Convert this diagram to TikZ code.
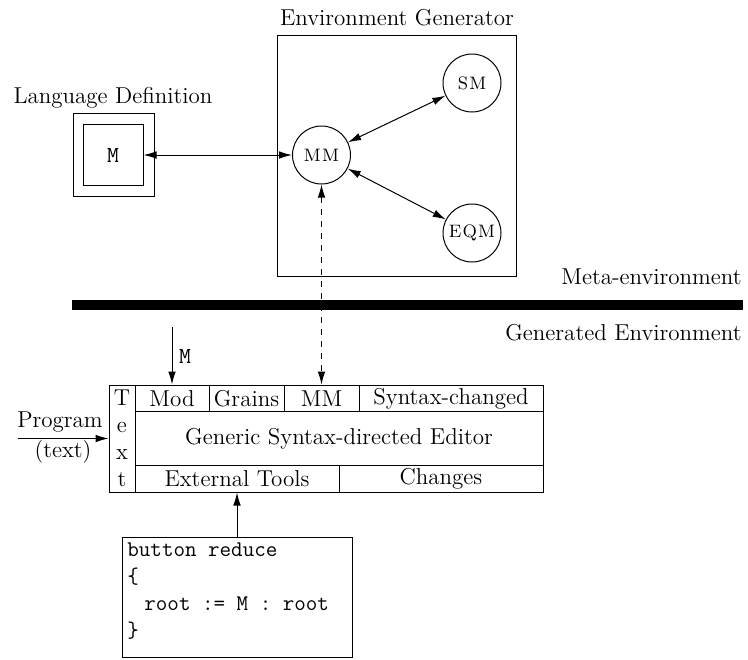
\documentclass[tikz,border=0pt]{standalone}
\usetikzlibrary{arrows.meta}
\begin{document}
\begin{tikzpicture}[x=0.5pt,y=-0.5pt,
  every node/.style={font=\fontsize{11.5}{13.5}\selectfont},
  thin line/.style={line width=0.5pt},
  tip/.style={-{Latex[length=6.5pt,width=3.8pt]}},
  twotip/.style={{Latex[length=6.5pt,width=3.8pt]}-{Latex[length=6.5pt,width=3.8pt]}},
  module/.style={circle,draw,line width=0.5pt,minimum size=29pt,inner sep=0pt,
    font=\fontsize{9}{10}\selectfont},
  cell/.style={draw,line width=0.5pt,inner sep=0pt,anchor=center},
  codeline/.style={anchor=base west,inner sep=0pt,font=\fontsize{11.2}{13}\ttfamily}]
\useasboundingbox (0,0) rectangle (748,659);

% ---- meta-environment ----
\node (egtitle) at (397,18) {Environment Generator};
\node[draw,thin line,minimum width=119.5pt,minimum height=120.5pt,inner sep=0pt] (eg) at (396.5,155.5) {};
\node[module] (mm) at (321.5,155) {M\kern0.6pt M};
\node[module] (sm) at (472,83) {S\kern0.6pt M};
\node[module] (eqm) at (472,233) {E\kern0.6pt Q\kern0.6pt M};
\draw[thin line,twotip] (mm) -- (sm);
\draw[thin line,twotip] (mm) -- (eqm);

\node (ldtitle) at (113,98) {Language Definition};
\node[draw,thin line,minimum width=40.5pt,minimum height=41.5pt,inner sep=0pt] (ldouter) at (113.5,155) {};
\node[draw,thin line,minimum width=30pt,minimum height=30.5pt,inner sep=0pt,
  font=\fontsize{11.5}{13}\ttfamily] (ldinner) at (113,155) {M};
\draw[thin line,twotip] (ldinner.east) -- (mm.west);

% ---- separator ----
\fill (72,300) rectangle (743,309.5);
\node[anchor=east,inner sep=0pt] (meta) at (742,277) {Meta-environment};
\node[anchor=east,inner sep=0pt] (gen) at (742,333) {Generated Environment};

% ---- generated editor ----
\node[cell,minimum width=13pt,minimum height=53.5pt,align=center,
  font=\fontsize{11.5}{13.5}\selectfont] (tcol) at (122,438.5) {T\\e\\x\\t};
\node[cell,minimum width=37pt,minimum height=13.35pt] (mod) at (172,398.35) {Mod};
\node[cell,minimum width=37.5pt,minimum height=13.35pt] (grains) at (246.5,398.35) {Grains};
\node[cell,minimum width=37.5pt,minimum height=13.35pt] (mmcell) at (321.5,398.35) {MM};
\node[cell,minimum width=92pt,minimum height=13.35pt] (syn) at (451,398.35) {Syntax-changed};
\node[cell,minimum width=204pt,minimum height=27pt] (gse) at (339,438.7) {Generic Syntax-directed Editor};
\node[cell,minimum width=102pt,minimum height=13.15pt] (ext) at (237,478.85) {External Tools};
\node[cell,minimum width=102pt,minimum height=13.15pt] (chg) at (441,478.85) {Changes};

\draw[thin line,dashed,twotip] (mm.south) -- (mmcell.north);

\coordinate (msrc) at (172,327);
\draw[thin line,tip] (msrc) -- (mod.north);
\node[font=\fontsize{11.5}{13}\ttfamily] (mlabel) at (185,356) {M};

\coordinate (progsrc) at (18,438.5);
\draw[thin line,tip] (progsrc) -- (tcol.west);
\node (prog) at (60,422) {Program};
\node (progtext) at (63,452) {(text)};

% ---- button definition ----
\node[draw,thin line,minimum width=115pt,minimum height=60pt,inner sep=0pt] (code) at (237,597) {};
\node[codeline] (c1) at (127,556) {button reduce};
\node[codeline] (c2) at (127,583) {\{};
\node[codeline] (c3) at (144,610) {root := M : root};
\node[codeline] (c4) at (127,637) {\}};
\draw[thin line,tip] (code.north) -- (ext.south);
\end{tikzpicture}
\end{document}
